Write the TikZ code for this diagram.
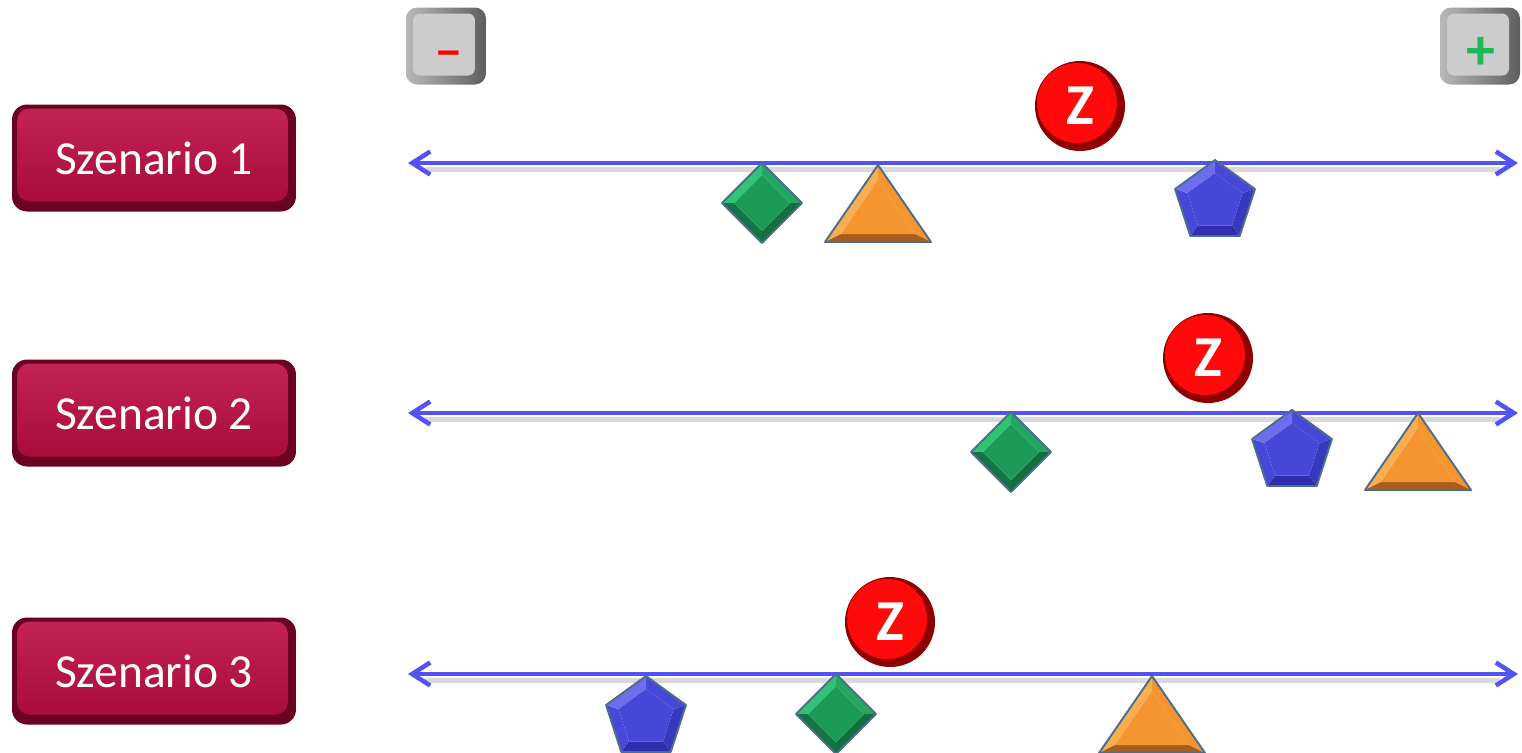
\documentclass[tikz,border=0pt]{standalone}
\usepackage{fontspec}
\setmainfont{Carlito}
\usetikzlibrary{arrows.meta,shapes.geometric,positioning}

\definecolor{szred}{HTML}{A60A36}
\definecolor{szlight}{HTML}{C42455}
\definecolor{szdark}{HTML}{6A0322}
\definecolor{knobface}{HTML}{CCCCCC}
\definecolor{knobdark}{HTML}{5E5E5E}
\definecolor{knoblight}{HTML}{B8B8B8}
\definecolor{axisblue}{HTML}{5252F5}
\definecolor{zred}{HTML}{FF0A0A}
\definecolor{zdark}{HTML}{8E0000}
\definecolor{gemline}{HTML}{4C6E8C}
\definecolor{grnmain}{HTML}{1C9A58}
\definecolor{grnlight}{HTML}{30C275}
\definecolor{grndark}{HTML}{12703F}
\definecolor{ormain}{HTML}{F4952F}
\definecolor{orlight}{HTML}{F9AE52}
\definecolor{ordark}{HTML}{A55E1E}
\definecolor{blmain}{HTML}{4848D8}
\definecolor{bllight}{HTML}{6E6EEC}
\definecolor{bldark}{HTML}{2E2EAE}
\definecolor{plusgreen}{HTML}{1DB954}

\tikzset{
  % green diamond, origin at its centre
  diam/.pic={
    \fill[grnlight] (-40,0) -- (0,-40) -- (0,-28) -- (-28,0) -- cycle;
    \fill[grnmain!70!grnlight] (0,-40) -- (40,0) -- (28,0) -- (0,-28) -- cycle;
    \fill[grndark] (40,0) -- (0,40) -- (0,28) -- (28,0) -- cycle;
    \fill[grnmain!75!black] (0,40) -- (-40,0) -- (-28,0) -- (0,28) -- cycle;
    \fill[grnmain] (0,-28) -- (28,0) -- (0,28) -- (-28,0) -- cycle;
    \draw[gemline, line width=1.1pt, line join=round] (0,-40) -- (40,0) -- (0,40) -- (-40,0) -- cycle;
  },
  % orange triangle, origin at its apex
  tri/.pic={
    \fill[orlight] (0,0) -- (-53,77) -- (-37,69) -- (0,15) -- cycle;
    \fill[ormain] (0,0) -- (53,77) -- (37,69) -- (0,15) -- cycle;
    \fill[ordark] (-53,77) -- (53,77) -- (37,69) -- (-37,69) -- cycle;
    \fill[ormain] (0,15) -- (37,69) -- (-37,69) -- cycle;
    \draw[gemline, line width=1.1pt, line join=round] (0,0) -- (53,77) -- (-53,77) -- cycle;
  },
  % blue pentagon, origin at its centre
  penta/.pic={
    \foreach \a/\c in {-90/blmain, -18/bldark!60!blmain, 54/bldark, 126/blmain, 198/bllight}
      \fill[\c] (\a:42) -- (\a+72:42) -- (\a+72:29) -- (\a:29) -- cycle;
    \fill[blmain] (-90:29) \foreach \a in {-18,54,126,198} { -- (\a:29) } -- cycle;
    \draw[gemline, line width=1.1pt, line join=round] (-90:42) \foreach \a in {-18,54,126,198} { -- (\a:42) } -- cycle;
  }
}

\begin{document}
\begin{tikzpicture}[x=0.02cm, y=-0.02cm,
    szenario/.style={rounded corners=0.3cm, fill=szdark, minimum width=5.68cm, minimum height=2.14cm,
      text=white, font=\fontsize{27}{32}\selectfont,
      path picture={\fill[top color=szlight, bottom color=szred, rounded corners=0.25cm]
        ([shift={(0.1cm,0.2cm)}]path picture bounding box.south west) rectangle
        ([shift={(-0.16cm,-0.08cm)}]path picture bounding box.north east);}},
    knob/.style={rounded corners=0.22cm, minimum width=1.6cm, minimum height=1.54cm,
      left color=knoblight, right color=knobdark,
      path picture={\fill[knobface, rounded corners=0.14cm]
        ([shift={(0.14cm,0.18cm)}]path picture bounding box.south west) rectangle
        ([shift={(-0.22cm,-0.12cm)}]path picture bounding box.north east);}},
    sign/.style={font=\fontsize{33}{40}\selectfont\bfseries},
    zbadge/.style={circle, minimum size=1.8cm, fill=zdark, text=white, font=\fontsize{33}{40}\selectfont\bfseries,
      path picture={\fill[zred] ([shift={(-0.06cm,0.06cm)}]path picture bounding box.center) circle (0.8cm);}},
    axis/.style={draw=axisblue, line width=0.09cm,
      arrows={Straight Barb[length=0.36cm,width=0.46cm]-Straight Barb[length=0.36cm,width=0.46cm]}}
  ]
  \useasboundingbox (0,0) rectangle (1522,752);

  % scenario labels
  \node[szenario] (s1) at (154,158) {Szenario 1};
  \node[szenario] (s2) at (154,413) {Szenario 2};
  \node[szenario] (s3) at (154,671) {Szenario 3};

  % minus and plus keys
  \node[knob] (minus) at (446,46) {};
  \node[knob] (plus) at (1480,46) {};
  \node[sign, text=red, font=\fontsize{33}{40}\selectfont, xscale=1.5] (minussign) at (449,60) {-};
  \node[sign, text=plusgreen] (plussign) at (1481,53) {+};

  % the three axes with their shadow
  \foreach \i/\y in {1/163, 2/413, 3/674} {
    \draw[gray, opacity=0.3, line width=0.1cm] (425,\y+6) -- (1500,\y+6);
    \coordinate (w\i) at (408,\y);
    \coordinate (e\i) at (1518,\y);
    \draw[axis] (w\i) -- (e\i);
  }

  % Szenario 1
  \pic at (762,203) {diam};
  \pic at (878,165) {tri};
  \pic at (1215,202) {penta};
  \node[zbadge] (z1) at (1080,106) {Z};

  % Szenario 2
  \pic at (1011,452) {diam};
  \pic at (1292,452) {penta};
  \pic at (1418,413) {tri};
  \node[zbadge] (z2) at (1208,358) {Z};

  % Szenario 3
  \pic at (646,718) {penta};
  \pic at (836,714) {diam};
  \pic at (1152,676) {tri};
  \node[zbadge] (z3) at (890,622) {Z};
\end{tikzpicture}
\end{document}
